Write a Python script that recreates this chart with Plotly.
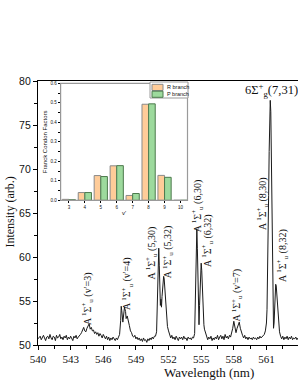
import plotly.graph_objects as go

# ---------------- data ----------------
wavelength = [
    540.0, 540.1, 540.2, 540.3, 540.4, 540.5, 540.6, 540.7, 540.8, 540.9,
    541.0, 541.1, 541.2, 541.3, 541.4, 541.5, 541.6, 541.7, 541.8, 541.9,
    542.0, 542.1, 542.2, 542.3, 542.4, 542.5, 542.6, 542.7, 542.8, 542.9,
    543.0, 543.1, 543.2, 543.3, 543.4, 543.5, 543.6, 543.7, 543.8, 543.9,
    544.0, 544.1, 544.2, 544.3, 544.4, 544.5, 544.6, 544.7, 544.8, 544.9,
    545.0, 545.1, 545.2, 545.3, 545.4, 545.5, 545.6, 545.7, 545.8, 545.9,
    546.0, 546.1, 546.2, 546.3, 546.4, 546.5, 546.6, 546.7, 546.8, 546.9,
    547.0, 547.1, 547.2, 547.3, 547.4, 547.5, 547.6, 547.65, 547.7, 547.8,
    547.85, 547.95, 548.05, 548.1, 548.2, 548.3, 548.4, 548.5, 548.6, 548.7,
    548.8, 548.9, 549.0, 549.1, 549.2, 549.3, 549.4, 549.5, 549.6, 549.7,
    549.8, 549.9, 550.0, 550.1, 550.2, 550.3, 550.4, 550.5, 550.6, 550.7,
    550.8, 550.9, 550.95, 551.0, 551.05, 551.1, 551.15, 551.2, 551.25, 551.3,
    551.35, 551.4, 551.45, 551.5, 551.55, 551.6, 551.65, 551.7, 551.75, 551.8,
    551.85, 551.9, 552.0, 552.1, 552.2, 552.3, 552.4, 552.5, 552.6, 552.7,
    552.8, 552.9, 553.0, 553.1, 553.2, 553.3, 553.4, 553.5, 553.6, 553.7,
    553.8, 553.9, 554.0, 554.1, 554.2, 554.3, 554.4, 554.45, 554.5, 554.55,
    554.6, 554.65, 554.7, 554.75, 554.8, 554.85, 554.9, 554.95, 555.0, 555.05,
    555.1, 555.15, 555.2, 555.25, 555.3, 555.4, 555.5, 555.6, 555.7, 555.8,
    555.9, 556.0, 556.1, 556.2, 556.3, 556.4, 556.5, 556.6, 556.7, 556.8,
    556.9, 557.0, 557.1, 557.2, 557.3, 557.4, 557.5, 557.6, 557.7, 557.8,
    557.9, 558.0, 558.1, 558.2, 558.3, 558.4, 558.5, 558.6, 558.7, 558.8,
    558.9, 559.0, 559.1, 559.2, 559.3, 559.4, 559.5, 559.6, 559.7, 559.8,
    559.9, 560.0, 560.1, 560.2, 560.3, 560.4, 560.5, 560.6, 560.7, 560.8,
    560.9, 561.0, 561.05, 561.1, 561.15, 561.2, 561.25, 561.3, 561.35, 561.4,
    561.45, 561.5, 561.55, 561.6, 561.65, 561.7, 561.75, 561.8, 561.85, 561.9,
    561.95, 562.0, 562.05, 562.1, 562.2, 562.3, 562.4, 562.5, 562.6, 562.7,
    562.8, 562.9, 563.0, 563.1, 563.2, 563.3, 563.4, 563.5, 563.6, 563.7,
    563.8, 563.9,
]
intensity = [
    50.7, 50.9, 51.0, 50.6, 50.9, 51.1, 50.8, 50.5, 50.9, 51.0,
    50.7, 51.2, 50.8, 50.6, 51.0, 50.9, 50.5, 51.1, 50.8, 50.9,
    51.2, 50.7, 50.9, 50.6, 51.0, 50.8, 51.1, 50.6, 50.9, 50.7,
    51.0, 50.8, 50.5, 51.0, 50.8, 51.1, 50.7, 50.9, 51.0, 51.2,
    51.4, 51.7, 52.0, 51.6, 51.5, 51.9, 52.2, 52.4, 51.8, 52.0,
    51.6, 51.7, 51.3, 51.5, 51.2, 51.4, 51.0, 51.3, 51.1, 50.8,
    51.2, 50.9, 50.7, 51.0, 50.6, 50.9, 50.5, 50.8, 50.6, 50.9,
    50.7, 50.5, 50.8, 50.6, 50.9, 51.2, 52.8, 54.4, 53.9, 52.6,
    53.3, 54.3, 53.8, 53.0, 53.3, 52.5, 52.2, 51.6, 51.4, 51.0,
    50.9, 51.1, 50.7, 50.9, 50.6, 50.8, 50.5, 50.7, 50.4, 50.8,
    50.5, 50.6, 50.3, 50.7, 50.5, 50.8, 50.6, 50.9, 50.7, 51.0,
    51.0, 51.5, 54.0, 57.5, 59.5, 61.0, 59.0, 56.5, 54.5, 55.2,
    54.3, 55.5, 56.5, 57.4, 57.8, 57.5, 56.5, 55.0, 53.8, 52.8,
    52.6, 52.1, 51.6, 51.0, 50.8, 51.1, 50.7, 50.9, 50.6, 51.0,
    50.8, 50.5, 50.9, 50.7, 50.9, 50.6, 51.0, 50.7, 50.8, 50.5,
    50.9, 50.7, 50.8, 50.6, 50.9, 50.8, 51.3, 54.0, 58.0, 61.5,
    63.2, 61.0, 57.0, 53.5, 52.3, 54.5, 57.0, 58.8, 59.3, 58.5,
    56.8, 54.5, 53.0, 52.3, 51.8, 51.3, 51.0, 50.6, 50.9, 50.7,
    51.0, 50.5, 50.8, 50.6, 50.9, 50.7, 51.1, 50.6, 50.9, 51.1,
    50.7, 51.0, 50.6, 51.2, 50.8, 51.0, 50.7, 51.1, 50.9, 51.3,
    51.9, 52.7, 51.8, 51.4, 51.9, 52.3, 52.6, 51.9, 51.3, 51.1,
    50.8, 51.1, 50.7, 50.9, 50.6, 50.9, 50.7, 50.8, 50.6, 50.9,
    50.7, 50.8, 50.6, 50.9, 50.7, 51.0, 50.8, 50.9, 51.1, 51.2,
    51.6, 52.5, 54.0, 57.0, 62.0, 67.0, 72.0, 75.5, 77.8, 76.5,
    71.0, 63.0, 56.0, 52.8, 51.9, 52.5, 54.5, 56.0, 56.9, 56.7,
    55.8, 54.2, 53.0, 52.2, 51.5, 51.0, 50.7, 51.0, 50.6, 50.9,
    50.7, 51.0, 50.6, 50.9, 50.7, 51.0, 50.6, 50.8, 50.7, 50.9,
    50.6, 50.8,
]

v_levels = [3, 4, 5, 6, 7, 8, 9, 10]
fcf_R = [0.005, 0.040, 0.127, 0.177, 0.025, 0.493, 0.128, 0.0]
fcf_P = [0.003, 0.040, 0.122, 0.178, 0.035, 0.495, 0.118, 0.0]

x_ticks = [540, 543, 546, 549, 552, 555, 558, 561, 564]
y_ticks = [50, 55, 60, 65, 70, 75, 80]
inset_y_ticks = [0.0, 0.1, 0.2, 0.3, 0.4, 0.5, 0.6]

peak_labels = [
    ("A <sup>1</sup>Σ<sup>+</sup><sub>u</sub> (v'=3)", 544.57, 55.3),
    ("A <sup>1</sup>Σ<sup>+</sup><sub>u</sub> (v'=4)", 548.24, 57.0),
    ("A <sup>1</sup>Σ<sup>+</sup><sub>u</sub> (5,30)", 550.42, 60.45),
    ("A <sup>1</sup>Σ<sup>+</sup><sub>u</sub> (5,32)", 551.95, 60.55),
    ("A <sup>1</sup>Σ<sup>+</sup><sub>u</sub> (6,30)", 554.65, 65.8),
    ("A <sup>1</sup>Σ<sup>+</sup><sub>u</sub> (6,32)", 555.6, 61.9),
    ("A <sup>1</sup>Σ<sup>+</sup><sub>u</sub> (v'=7)", 558.26, 55.7),
    ("A <sup>1</sup>Σ<sup>+</sup><sub>u</sub> (8,30)", 560.65, 66.1),
    ("A <sup>1</sup>Σ<sup>+</sup><sub>u</sub> (8,32)", 562.49, 60.2),
]
main_label = ("6Σ<sup>+</sup><sub>g</sub>(7,31)", 561.5, 79.0)

# ---------------- figure ----------------
SERIF = "Liberation Serif"
SANS = "Liberation Sans"
R_COLOR, P_COLOR = "#FFCC99", "#9DDA9D"

fig = go.Figure()
fig.add_trace(go.Scatter(
    x=wavelength, y=intensity, mode="lines",
    line=dict(color="#1a1a1a", width=1), xaxis="x", yaxis="y",
    showlegend=False, hoverinfo="skip"))
fig.add_trace(go.Bar(
    x=v_levels, y=fcf_R, name="R branch", xaxis="x2", yaxis="y2",
    marker=dict(color=R_COLOR, line=dict(color="#8a8a8a", width=1)),
    showlegend=False))
fig.add_trace(go.Bar(
    x=v_levels, y=fcf_P, name="P branch", xaxis="x2", yaxis="y2",
    marker=dict(color=P_COLOR, line=dict(color="#4d7a4d", width=1)),
    showlegend=False))

annotations = []
for text, xv, yv in peak_labels:
    annotations.append(dict(
        text=text, x=xv, y=yv, xref="x", yref="y", showarrow=False,
        xanchor="center", yanchor="middle",
        textangle=-90, font=dict(family=SERIF, size=10, color="#111")))
annotations.append(dict(
    text=main_label[0], x=main_label[1], y=main_label[2], xref="x", yref="y",
    xanchor="center", yanchor="middle",
    showarrow=False, font=dict(family=SERIF, size=12.5, color="#111")))
annotations.append(dict(
    text="Intensity (arb.)", x=-0.108, y=0.505, xref="paper", yref="paper",
    xanchor="center", yanchor="middle",
    showarrow=False, textangle=-90, font=dict(family=SERIF, size=12, color="#111")))
annotations.append(dict(
    text="Wavelength (nm)", x=0.658, y=-0.106, xref="paper", yref="paper",
    xanchor="center", yanchor="middle",
    showarrow=False, font=dict(family=SERIF, size=13, color="#111")))

# manual legend for the inset
def px_x(p):
    return (p - 38) / 260.0

def px_y(p):
    return (345 - p) / 264.0

shapes = [
    dict(type="rect", xref="x2 domain", yref="y2 domain", x0=0, x1=1, y0=0, y1=1,
         line=dict(color="#9a9a9a", width=1.2), fillcolor="rgba(0,0,0,0)", layer="above"),
    dict(type="rect", xref="paper", yref="paper", x0=px_x(150), x1=px_x(188),
         y0=px_y(98), y1=px_y(82), line=dict(color="#9a9a9a", width=1), fillcolor="white"),
    dict(type="rect", xref="paper", yref="paper", x0=px_x(152), x1=px_x(163),
         y0=px_y(90.5), y1=px_y(84.3), line=dict(color="#8a8a8a", width=1), fillcolor=R_COLOR),
    dict(type="rect", xref="paper", yref="paper", x0=px_x(152), x1=px_x(163),
         y0=px_y(97.3), y1=px_y(91.2), line=dict(color="#4d7a4d", width=1), fillcolor=P_COLOR),
]
annotations.append(dict(text="R branch", x=px_x(164.5), y=px_y(87.4), xref="paper", yref="paper",
                        xanchor="left", yanchor="middle", showarrow=False,
                        font=dict(family=SANS, size=5.5, color="#111")))
annotations.append(dict(text="P branch", x=px_x(164.5), y=px_y(94.2), xref="paper", yref="paper",
                        xanchor="left", yanchor="middle", showarrow=False,
                        font=dict(family=SANS, size=5.5, color="#111")))

fig.update_layout(
    width=298, height=385,
    margin=dict(l=38, r=0, t=81, b=40),
    paper_bgcolor="white", plot_bgcolor="white",
    barmode="group", bargap=0.17, bargroupgap=0.0,
    showlegend=False,
    annotations=annotations, shapes=shapes,
    xaxis=dict(
        domain=[0, 1], range=[540, 563.9], tickvals=x_ticks,
        ticks="outside", ticklen=4, tickcolor="black", tickwidth=1,
        minor=dict(ticks="outside", ticklen=2.5, tick0=540, dtick=1.5, tickcolor="black"),
        showline=True, linecolor="black", linewidth=1.2, mirror=True,
        showgrid=False, zeroline=False,
        tickfont=dict(family=SERIF, size=11, color="#111")),
    yaxis=dict(
        domain=[0, 1], range=[50, 80], tickvals=y_ticks,
        ticks="outside", ticklen=4, tickcolor="black",
        minor=dict(ticks="outside", ticklen=2.5, tick0=50, dtick=2.5, tickcolor="black"),
        showline=True, linecolor="black", linewidth=1.2, mirror=False,
        showgrid=False, zeroline=False,
        tickfont=dict(family=SANS, size=10.5, color="#111")),
    xaxis2=dict(
        domain=[0.087, 0.575], anchor="y2", range=[2.48, 10.44], tickvals=v_levels,
        ticks="outside", ticklen=2, tickcolor="black", ticklabelstandoff=0,
        showline=True, linecolor="black", linewidth=1,
        showgrid=False, zeroline=False,
        tickfont=dict(family=SANS, size=4.5, color="#111"),
        title=dict(text="v'", font=dict(family=SANS, size=6, color="#111"), standoff=2)),
    yaxis2=dict(
        domain=[0.548, 0.991], anchor="x2", range=[0, 0.6], tickvals=inset_y_ticks,
        tickformat=".1f",
        ticks="outside", ticklen=2, tickcolor="black",
        minor=dict(ticks="outside", ticklen=1.2, dtick=0.05, tickcolor="black"),
        showline=True, linecolor="black", linewidth=1,
        showgrid=False, zeroline=False,
        tickfont=dict(family=SANS, size=4.5, color="#111"),
        title=dict(text="Franck Condon Factors", font=dict(family=SANS, size=6, color="#111"),
                   standoff=2)),
)

fig.write_html(
    "out.html",
    config={"displayModeBar": False},
    post_script="document.body.style.margin='0';document.body.style.overflow='hidden';",
)
